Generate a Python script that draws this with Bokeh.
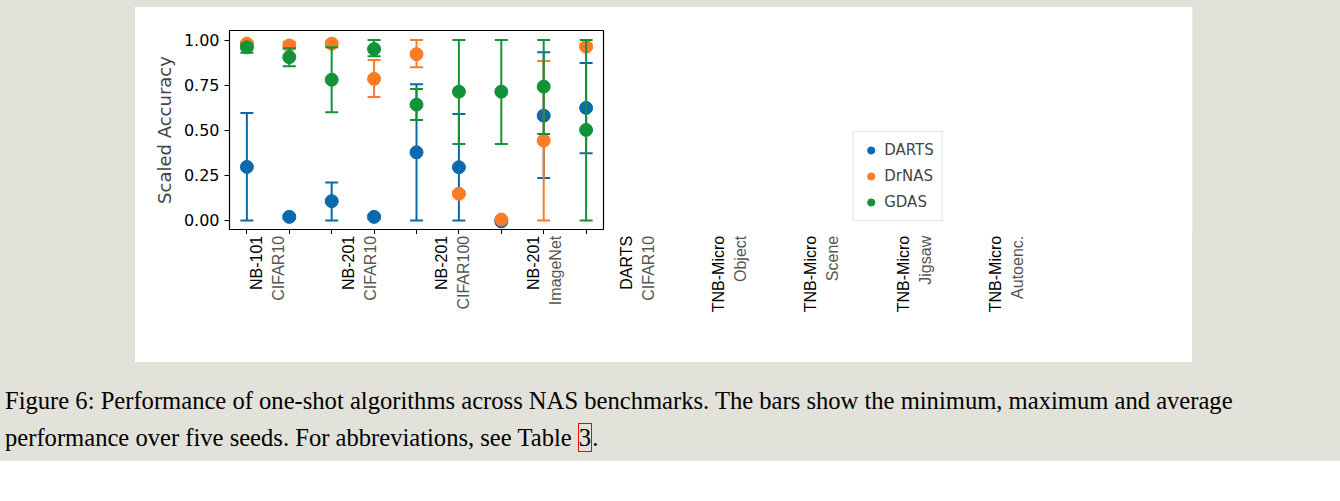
from bokeh.plotting import figure
from bokeh.models import Legend, LegendItem, Div, Spacer, FixedTicker
from bokeh.layouts import column, row
from bokeh.embed import file_html
from bokeh.resources import INLINE

benchmarks = ["NB-101", "NB-201", "NB-201", "NB-201", "DARTS",
              "TNB-Micro", "TNB-Micro", "TNB-Micro", "TNB-Micro"]
datasets = ["CIFAR10", "CIFAR10", "CIFAR100", "ImageNet", "CIFAR10",
            "Object", "Scene", "Jigsaw", "Autoenc."]

darts_mean = [0.297, 0.02, 0.107, 0.02, 0.378, 0.295, -0.005, 0.581, 0.624]
darts_min = [0.0, 0.01, 0.0, 0.01, 0.0, 0.0, -0.005, 0.236, 0.373]
darts_max = [0.596, 0.03, 0.21, 0.03, 0.755, 0.59, -0.005, 0.932, 0.873]

drnas_mean = [0.98, 0.97, 0.98, 0.785, 0.922, 0.148, 0.005, 0.443, 0.963]
drnas_min = [0.97, 0.95, 0.97, 0.685, 0.849, 0.14, 0.005, 0.0, 0.96]
drnas_max = [0.99, 0.99, 0.99, 0.89, 1.0, 0.16, 0.005, 0.884, 0.98]

gdas_mean = [0.96, 0.905, 0.78, 0.95, 0.642, 0.714, 0.714, 0.742, 0.502]
gdas_min = [0.93, 0.855, 0.60, 0.91, 0.557, 0.424, 0.424, 0.48, 0.0]
gdas_max = [0.98, 0.955, 0.96, 1.0, 0.729, 1.0, 1.0, 1.0, 1.0]

series = [("DARTS", "#0a6aad", darts_mean, darts_min, darts_max),
          ("DrNAS", "#fc7b26", drnas_mean, drnas_min, drnas_max),
          ("GDAS", "#12933a", gdas_mean, gdas_min, gdas_max)]

xs = list(range(len(benchmarks)))

p = figure(frame_width=815, frame_height=199, output_backend="svg",
           toolbar_location=None, x_range=(-0.41, 8.41), y_range=(-0.05, 1.053),
           min_border_left=94, min_border_right=5, min_border_top=23,
           min_border_bottom=0, border_fill_color="white")
p.grid.visible = False
p.outline_line_color = "black"
p.outline_line_width = 1.2

items = []
for name, color, mean, lo, hi in series:
    p.segment(xs, lo, xs, hi, line_color=color, line_width=2)
    p.scatter(xs, lo, marker="dash", size=13, line_color=color, line_width=2)
    p.scatter(xs, hi, marker="dash", size=13, line_color=color, line_width=2)
    r = p.scatter(xs, mean, size=13, fill_color=color, line_color=color)
    items.append(LegendItem(label=name, renderers=[r]))

legend = Legend(items=items, location="bottom", label_text_font="DejaVu Sans",
                label_text_font_size="15px", border_line_color="#cccccc",
                padding=8, spacing=6, glyph_width=18, margin=8)
p.add_layout(legend, "right")

p.yaxis.ticker = FixedTicker(ticks=[0, 0.25, 0.5, 0.75, 1.0])
p.yaxis.major_label_overrides = {0: "0.00", 0.25: "0.25", 0.5: "0.50",
                                 0.75: "0.75", 1.0: "1.00"}
p.yaxis.axis_label = "Scaled Accuracy"
p.yaxis.axis_label_text_font = "DejaVu Sans"
p.yaxis.axis_label_text_font_style = "normal"
p.yaxis.axis_label_text_font_size = "18px"
p.yaxis.axis_label_standoff = 6
p.axis.major_label_text_font = "DejaVu Sans"
p.axis.major_label_text_font_size = "16px"
p.axis.major_label_text_color = "black"
p.axis.minor_tick_line_color = None
p.axis.major_tick_out = 5
p.axis.major_tick_in = 0
p.axis.axis_line_color = None
p.xaxis.ticker = FixedTicker(ticks=xs)
p.xaxis.major_label_overrides = {i: "" for i in xs}

# rotated two-line category labels, drawn in a strip under the plot
q = figure(frame_width=815, frame_height=128, output_backend="svg",
           toolbar_location=None, x_range=p.x_range, y_range=(0, 1),
           min_border_left=p.min_border_left, min_border_right=0,
           min_border_top=0, min_border_bottom=0, outline_line_color=None,
           border_fill_color="white")
q.axis.visible = False
q.grid.visible = False
q.text(xs, [0.99] * len(xs), text=benchmarks, angle=1.5708, x_offset=-11,
       text_align="right", text_baseline="middle", text_font_size="16px",
       text_color="black")
q.text(xs, [0.99] * len(xs), text=datasets, angle=1.5708, x_offset=11,
       text_align="right", text_baseline="middle", text_font_size="16px",
       text_color="#555555")

plots = column(p, q, width=1057, styles={"background-color": "white"})

caption = Div(text="Figure 6: Performance of one-shot algorithms across NAS benchmarks. "
                   "The bars show the minimum, maximum and average performance over five "
                   "seeds. For abbreviations, see Table <span style='border:1px solid red'>3</span>.",
              width=1330, styles={"font-family": "Liberation Serif", "font-size": "24.6px",
                                  "line-height": "37px", "color": "black",
                                  "margin-top": "20px"})

layout = column(row(Spacer(width=135, height=10), plots), caption,
                styles={"background-color": "#e2e1da", "padding-top": "7px"})

open("out.html", "w").write(file_html(layout, INLINE))
